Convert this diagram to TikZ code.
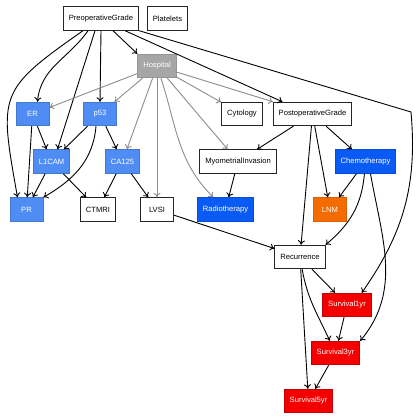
\documentclass[tikz,border=0pt]{standalone}
\usepackage{fontspec}
\setmainfont{Liberation Sans}
\usetikzlibrary{arrows.meta}
\definecolor{markerblue}{HTML}{4F8DF5}
\definecolor{treatblue}{HTML}{0A5AF5}
\definecolor{lnmorange}{HTML}{F46B00}
\definecolor{survred}{HTML}{F50000}
\definecolor{hospgray}{HTML}{A6A6A6}
\begin{document}
\begin{tikzpicture}[
  x=1pt, y=1pt,
  every node/.style={draw=black!85, line width=0.9pt, minimum width=33pt, minimum height=23.5pt, inner xsep=5.5pt, font=\fontsize{7.6}{9}\selectfont},
  marker/.style={fill=markerblue, draw=markerblue!85!black, text=white},
  treat/.style={fill=treatblue, draw=treatblue!85!black, text=white},
  lnm/.style={fill=lnmorange, draw=lnmorange!90!black, text=white},
  surv/.style={fill=survred, draw=survred!80!black, text=white},
  hosp/.style={fill=hospgray, draw=hospgray!90!black, text=white},
  arrow/.style={-{To[length=4.5pt,width=7pt]}, line width=0.9pt},
  hosparrow/.style={arrow, black!45}
]
\useasboundingbox (0,0) rectangle (420,-420);
\node (Preop) at (101,-18.5) {PreoperativeGrade};
\node (Platelets) at (167.5,-18.5) {Platelets};
\node[hosp] (Hospital) at (157,-66) {Hospital};
\node[marker] (ER) at (32.5,-114) {ER};
\node[marker] (p53) at (100,-114) {p53};
\node (Cytology) at (242,-114) {Cytology};
\node (Postop) at (312.5,-114) {PostoperativeGrade};
\node[marker] (L1CAM) at (51.5,-161.5) {L1CAM};
\node[marker] (CA125) at (122.5,-161.5) {CA125};
\node (Myo) at (238,-161.5) {MyometrialInvasion};
\node[treat] (Chemo) at (365.5,-161.5) {Chemotherapy};
\node[marker] (PR) at (26.5,-209.5) {PR};
\node (CTMRI) at (98,-209.5) {CTMRI};
\node (LVSI) at (157,-209.5) {LVSI};
\node[treat] (Radio) at (225.5,-209.5) {Radiotherapy};
\node[lnm] (LNM) at (330,-209.5) {LNM};
\node (Recurrence) at (300,-257) {Recurrence};
\node[surv] (Surv1) at (347,-305) {Survival1yr};
\node[surv] (Surv3) at (335.5,-353) {Survival3yr};
\node[surv] (Surv5) at (308.5,-401) {Survival5yr};
\coordinate (Turn) at (411,-112);

\draw[arrow] ([xshift=-13pt]Preop.south) to[out=235,in=85] ([xshift=5pt]ER.north);
\draw[arrow] ([xshift=-18pt]Preop.south) to[out=215,in=100,looseness=1.5] ([xshift=-9pt]PR.north);
\draw[arrow] ([xshift=-6pt]Preop.south) -- ([xshift=6pt]L1CAM.north);
\draw[arrow] (Preop.south) -- (p53.north);
\draw[arrow] ([xshift=12pt]Preop.south) -- (Hospital.north west);
\draw[arrow] ([xshift=24pt]Preop.south) -- ([xshift=-30pt]Postop.north);
\draw[arrow] (Preop.south east) -- (Turn) to[out=-85,in=55] ([xshift=-10pt]Surv1.north east);

\draw[hosparrow] (Hospital) -- (ER);
\draw[hosparrow] (Hospital) -- (p53);
\draw[hosparrow] (Hospital) -- (CA125);
\draw[hosparrow] (Hospital) -- (LVSI);
\draw[hosparrow] (Hospital) to[out=-72,in=135] (Radio);
\draw[hosparrow] (Hospital) -- (Myo);
\draw[hosparrow] (Hospital) -- (Cytology);
\draw[hosparrow] (Hospital) -- (Postop);

\draw[arrow] (ER) -- (L1CAM);
\draw[arrow] (ER) -- (PR);
\draw[arrow] (p53) -- (L1CAM);
\draw[arrow] (p53) -- (CA125);
\draw[arrow] ([xshift=-4pt]p53.south) to[out=-95,in=30] (PR.north east);
\draw[arrow] (L1CAM) -- (PR);
\draw[arrow] (L1CAM) -- (CTMRI);
\draw[arrow] (CA125) -- (CTMRI);
\draw[arrow] (CA125) -- (LVSI);

\draw[arrow] (Postop) -- (Myo);
\draw[arrow] (Postop) -- (Recurrence);
\draw[arrow] (Postop) -- (LNM);
\draw[arrow] (Postop) -- (Chemo);
\draw[arrow] (Myo) -- (Radio);
\draw[arrow] (Chemo) -- (LNM);
\draw[arrow] (Chemo) to[out=-95,in=40] (Recurrence.north east);
\draw[arrow] ([xshift=5pt]Chemo.south) to[out=-80,in=50] (Surv3.north east);
\draw[arrow] (LVSI) -- (Recurrence);

\draw[arrow] (Recurrence) -- (Surv1);
\draw[arrow] (Recurrence) to[out=-80,in=115] (Surv3);
\draw[arrow] (Recurrence) -- (Surv5);
\draw[arrow] (Surv1) -- (Surv3);
\draw[arrow] (Surv3) -- (Surv5);
\end{tikzpicture}
\end{document}
